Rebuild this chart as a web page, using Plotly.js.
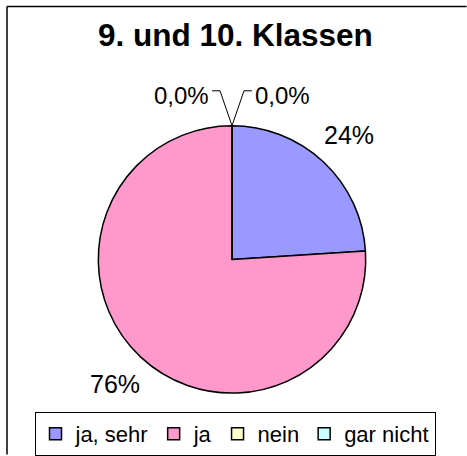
<!DOCTYPE html>
<html>
<head>
<meta charset="utf-8">
<script src="https://cdn.plot.ly/plotly-3.0.1.min.js"></script>
<style>html,body{margin:0;padding:0;background:#fff;overflow:hidden}#chart{width:467px;height:456px;overflow:hidden}</style>
</head>
<body>
<div id="chart"></div>
<script>
var categories = ["ja, sehr", "ja", "nein", "gar nicht"];
var values = [24, 76, 0, 0];
var labelTexts = ["24%", "76%", "0,0%", "0,0%"];
var colors = ["#9999FF", "#FF99CC", "#FFFFCC", "#CCFFFF"];

var W = 467, H = 456;
var FONT = "Arial, 'Liberation Sans', sans-serif";
var dom = {x: [0.2099, 0.7837], y: [0.1360, 0.7237]};
var cx = (dom.x[0] + dom.x[1]) / 2, cy = (dom.y[0] + dom.y[1]) / 2;
var rPx = Math.min((dom.x[1] - dom.x[0]) * W, (dom.y[1] - dom.y[0]) * H) / 2;

var total = values.reduce(function(a, b){return a + b;}, 0);
var annotations = [];
var shapes = [];
var cum = 0;
var zeroCount = 0;
values.forEach(function(v, i){
  var mid = (cum + v / 2) / total * 2 * Math.PI;
  cum += v;
  if (v > 0) {
    var f = 1.28;
    annotations.push({
      x: cx + rPx * f * Math.sin(mid) / W,
      y: cy + rPx * f * Math.cos(mid) / H,
      xref: "paper", yref: "paper", showarrow: false,
      text: labelTexts[i], font: {family: FONT, size: 25, color: "#000"},
      xanchor: "center", yanchor: "middle"
    });
  } else {
    var side = zeroCount === 0 ? -1 : 1;
    zeroCount++;
    var px = W * cx + rPx * Math.sin(mid);
    var py = H * (1 - cy) - rPx * Math.cos(mid);
    var elbowX = px + side * 12, elbowY = py - 35;
    var endX = elbowX + side * 8;
    shapes.push({
      type: "path", xref: "paper", yref: "paper",
      path: "M" + (px / W) + "," + (1 - py / H) +
            " L" + (elbowX / W) + "," + (1 - elbowY / H) +
            " L" + (endX / W) + "," + (1 - elbowY / H),
      line: {color: "#000", width: 1}
    });
    annotations.push({
      x: (endX + side * 1) / W, y: 1 - (elbowY + 5) / H,
      xref: "paper", yref: "paper", showarrow: false,
      xanchor: side < 0 ? "right" : "left", yanchor: "middle",
      text: labelTexts[i], font: {family: FONT, size: 24, color: "#000"}
    });
  }
});

annotations.push({
  x: 235 / W, y: 1 - 35 / H, xref: "paper", yref: "paper", showarrow: false,
  text: "<b>9. und 10. Klassen</b>", font: {family: FONT, size: 31.5, color: "#000"},
  xanchor: "center", yanchor: "middle"
});

shapes.push({type: "line", xref: "paper", yref: "paper",
  x0: 7 / W, x1: 0.999, y0: 1 - 6.5 / H, y1: 1 - 6.5 / H, line: {color: "#000", width: 1.5}});
shapes.push({type: "line", xref: "paper", yref: "paper",
  x0: 7 / W, x1: 7 / W, y0: 1 - 6.5 / H, y1: 0.001, line: {color: "#000", width: 1.5}});

var trace = {
  type: "pie",
  labels: categories,
  values: values,
  sort: false,
  direction: "clockwise",
  rotation: 0,
  textinfo: "none",
  hoverinfo: "none",
  domain: dom,
  marker: {colors: colors, line: {color: "#000", width: 1.5}}
};

var layout = {
  width: W, height: H,
  margin: {l: 0, r: 0, t: 0, b: 0},
  paper_bgcolor: "#fff",
  showlegend: true,
  legend: {
    orientation: "h", x: 235 / W, xanchor: "center", y: 1 - 413 / H, yanchor: "top",
    bordercolor: "#000", borderwidth: 1, bgcolor: "#fff",
    font: {family: FONT, size: 22, color: "#000"},
    traceorder: "normal"
  },
  annotations: annotations,
  shapes: shapes
};

Plotly.newPlot("chart", [trace], layout, {displayModeBar: false, staticPlot: true});
</script>
</body>
</html>
